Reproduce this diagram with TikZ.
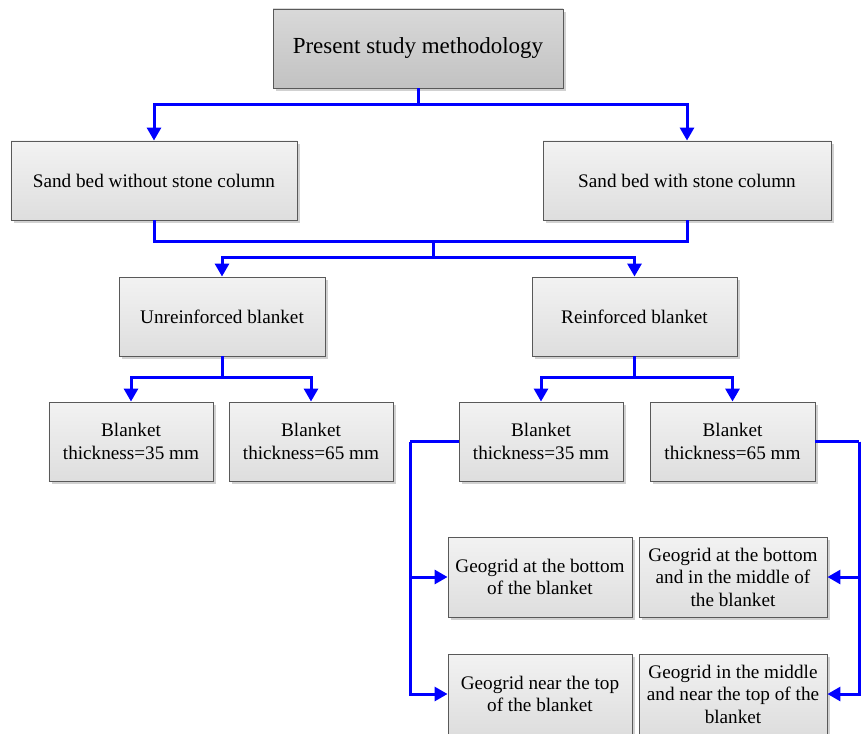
\documentclass[tikz,border=0pt]{standalone}
\usepackage{fontspec}
\setmainfont{Liberation Serif}
\usetikzlibrary{arrows.meta,shadows}
\tikzset{
  box/.style={draw=black!65, line width=0.9bp, rectangle, align=center,
    top color=black!5, bottom color=black!13,
    drop shadow={shadow xshift=3bp, shadow yshift=-3bp, fill=black!18, opacity=1},
    font=\fontsize{19.2bp}{22.5bp}\selectfont, inner sep=2bp},
  topbox/.style={box, top color=black!15, bottom color=black!24,
    font=\fontsize{23bp}{27bp}\selectfont},
  conn/.style={draw=blue, line width=3bp},
  arr/.style={conn, -{Triangle[length=13bp,width=14bp]}},
}
\begin{document}
\begin{tikzpicture}[x=1bp,y=-1bp]
\useasboundingbox (0,0) rectangle (861,734);
% boxes
\node[topbox, minimum width=290bp, minimum height=79bp] (top) at (418,48.5) {Present study methodology};
\node[box, minimum width=286bp, minimum height=79bp] (sw) at (154,180.5) {Sand bed without stone column};
\node[box, minimum width=288bp, minimum height=79bp] (sc) at (687,180.5) {Sand bed with stone column};
\node[box, minimum width=206bp, minimum height=79bp] (ur) at (222,316.5) {Unreinforced blanket};
\node[box, minimum width=205bp, minimum height=79bp] (rf) at (634.5,316.5) {Reinforced blanket};
\node[box, minimum width=164bp, minimum height=79bp] (b1) at (131,441.5) {Blanket\\thickness=35 mm};
\node[box, minimum width=164bp, minimum height=79bp] (b2) at (311,441.5) {Blanket\\thickness=65 mm};
\node[box, minimum width=164bp, minimum height=79bp] (b3) at (541,441.5) {Blanket\\thickness=35 mm};
\node[box, minimum width=165bp, minimum height=79bp] (b4) at (732.5,441.5) {Blanket\\thickness=65 mm};
\node[box, minimum width=184bp, minimum height=80bp] (g1) at (540,577) {Geogrid at the bottom\\of the blanket};
\node[box, minimum width=188bp, minimum height=80bp] (g2) at (733,577) {Geogrid at the bottom\\and in the middle of\\the blanket};
\node[box, minimum width=184bp, minimum height=80bp] (g3) at (540,694) {Geogrid near the top\\of the blanket};
\node[box, minimum width=188bp, minimum height=80bp] (g4) at (733,694) {Geogrid in the middle\\and near the top of the\\blanket};
% junctions
\coordinate (j1) at (418,105);
\coordinate (j2) at (433,241);
\coordinate (j3) at (433,257);
\coordinate (j4) at (222,377);
\coordinate (j5) at (634.5,377);
\coordinate (j6) at (410,441.5);
\coordinate (j7) at (859,441.5);
% connectors
\draw[conn] (top.south) -- (j1);
\draw[arr] (j1) -| (sw.north);
\draw[arr] (j1) -| (sc.north);
\draw[conn] (sw.south) |- (j2) -| (sc.south);
\draw[conn] (j2) -- (j3);
\draw[arr] (j3) -| (ur.north);
\draw[arr] (j3) -| (rf.north);
\draw[conn] (ur.south) -- (j4);
\draw[arr] (j4) -| (b1.north);
\draw[arr] (j4) -| (b2.north);
\draw[conn] (rf.south) -- (j5);
\draw[arr] (j5) -| (b3.north);
\draw[arr] (j5) -| (b4.north);
\draw[conn] (b3.west) -- (j6);
\draw[arr] (j6) |- (g1.west);
\draw[arr] (j6) |- (g3.west);
\draw[conn] (b4.east) -- (j7);
\draw[arr] (j7) |- (g2.east);
\draw[arr] (j7) |- (g4.east);
\end{tikzpicture}
\end{document}
